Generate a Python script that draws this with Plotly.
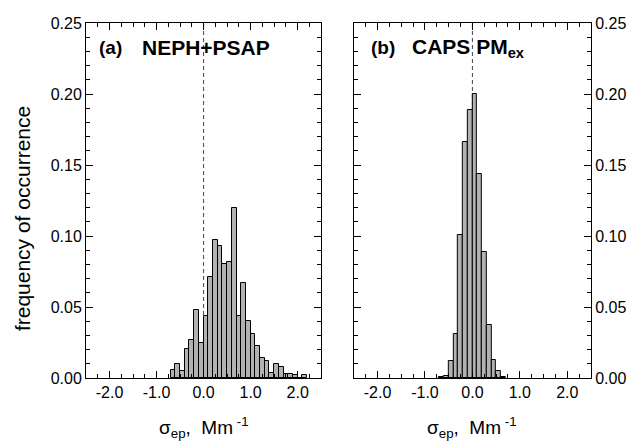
import plotly.graph_objects as go

# ---- data ----
bin_width = 0.1
left_bin_starts = [-0.7, -0.6, -0.5, -0.4, -0.3, -0.2, -0.1, 0.0, 0.1, 0.2, 0.3, 0.4, 0.5, 0.6,
                   0.7, 0.8, 0.9, 1.0, 1.1, 1.2, 1.3, 1.4, 1.5, 1.6, 1.7, 1.8, 1.9, 2.0, 2.1]
left_freq = [0.0056, 0.0096, 0.005, 0.0204, 0.0268, 0.0479, 0.0244, 0.0437, 0.0714, 0.097, 0.093,
             0.080, 0.082, 0.120, 0.0437, 0.067, 0.040, 0.031, 0.0225, 0.0143, 0.012, 0.0033,
             0.0099, 0.008, 0.003, 0.003, 0.002, 0.0, 0.002]
right_bin_starts = [-0.7, -0.6, -0.5, -0.4, -0.3, -0.2, -0.1, 0.0, 0.1, 0.2, 0.3, 0.4, 0.5, 0.6]
right_freq = [0.0004, 0.0014, 0.012, 0.031, 0.101, 0.166, 0.189, 0.200, 0.144, 0.089, 0.037,
              0.013, 0.005, 0.001]

x_tickvals = [-2.0, -1.0, 0.0, 1.0, 2.0]
x_ticktext = ["-2.0", "-1.0", "0.0", "1.0", "2.0"]
y_tickvals = [0.0, 0.05, 0.10, 0.15, 0.20, 0.25]
y_ticktext = ["0.00", "0.05", "0.10", "0.15", "0.20", "0.25"]
panel_tags = ["(a)", "(b)"]
panel_names = ["NEPH+PSAP", "CAPS PM<sub>ex</sub>"]
x_title = "σ<sub>ep</sub>,  Mm<sup> -1</sup>"
y_title = "frequency of occurrence"

FONT = "Liberation Sans, Arial, sans-serif"
BAR_FILL = "#b2b2b2"

fig = go.Figure()
fig.add_trace(go.Bar(x=[s + bin_width / 2 for s in left_bin_starts], y=left_freq, width=bin_width,
                     marker=dict(color=BAR_FILL, line=dict(color="black", width=1)),
                     xaxis="x", yaxis="y", showlegend=False))
fig.add_trace(go.Bar(x=[s + bin_width / 2 for s in right_bin_starts], y=right_freq, width=bin_width,
                     marker=dict(color=BAR_FILL, line=dict(color="black", width=1)),
                     xaxis="x2", yaxis="y2", showlegend=False))

xcommon = dict(range=[-2.5, 2.5], tickmode="array", tickvals=x_tickvals, ticktext=x_ticktext,
               ticks="inside", ticklen=7, tickwidth=1, tickcolor="black",
               minor=dict(tickmode="linear", tick0=0, dtick=0.25, ticks="inside", ticklen=4,
                          tickwidth=1, tickcolor="black"),
               showline=True, linecolor="black", linewidth=1, mirror="ticks",
               showgrid=False, zeroline=False,
               tickfont=dict(family=FONT, size=16, color="black"))
ycommon = dict(range=[0, 0.25], tickmode="array", tickvals=y_tickvals, ticktext=y_ticktext,
               ticks="inside", ticklen=7, tickwidth=1, tickcolor="black",
               minor=dict(tickmode="linear", tick0=0, dtick=0.01, ticks="inside", ticklen=4,
                          tickwidth=1, tickcolor="black"),
               showline=True, linecolor="black", linewidth=1, mirror="ticks",
               showgrid=False, zeroline=False,
               tickfont=dict(family=FONT, size=16, color="black"))

W, H = 638, 444
L, R, T, B = 86, 41, 23, 66
pw = W - L - R
left_dom = [0, (324 - L) / pw]
right_dom = [(357 - L) / pw, 1]

fig.update_layout(
    width=W, height=H, margin=dict(l=L, r=R, t=T, b=B),
    paper_bgcolor="white", plot_bgcolor="white", bargap=0,
    font=dict(family=FONT, color="black"),
    xaxis=dict(domain=left_dom, anchor="y", **xcommon),
    xaxis2=dict(domain=right_dom, anchor="y2", **xcommon),
    yaxis=dict(anchor="x", side="left", **ycommon),
    yaxis2=dict(anchor="x2", side="right", **ycommon),
)

for xr in ["x", "x2"]:
    fig.add_shape(type="line", xref=xr, yref="y" if xr == "x" else "y2",
                  x0=0, x1=0, y0=0, y1=0.25, layer="below",
                  line=dict(color="#444444", width=1, dash="4px,3px"))

# panel labels
for xr, tag, name, tx, nx in [("x", panel_tags[0], panel_names[0], -2.27, -1.35),
                              ("x2", panel_tags[1], panel_names[1], -2.19, -1.31)]:
    fig.add_annotation(x=tx, y=0.93, xref=xr, yref="paper", text=f"<b>{tag}</b>",
                       showarrow=False, xanchor="left", yanchor="middle",
                       font=dict(family=FONT, size=19, color="black"))
    fig.add_annotation(x=nx, y=0.93, xref=xr, yref="paper", text=f"<b>{name}</b>",
                       showarrow=False, xanchor="left", yanchor="middle",
                       font=dict(family=FONT, size=21, color="black"))
    fig.add_annotation(x=0, y=-0.095, xref=xr, yref="paper", text=x_title,
                       showarrow=False, xanchor="center", yanchor="top",
                       font=dict(family=FONT, size=19, color="black"))

fig.add_annotation(x=-0.127, y=0.45, xref="paper", yref="paper", text=y_title, textangle=-90,
                   showarrow=False, xanchor="center", yanchor="middle",
                   font=dict(family=FONT, size=21, color="black"))

fig.write_html("out.html")
